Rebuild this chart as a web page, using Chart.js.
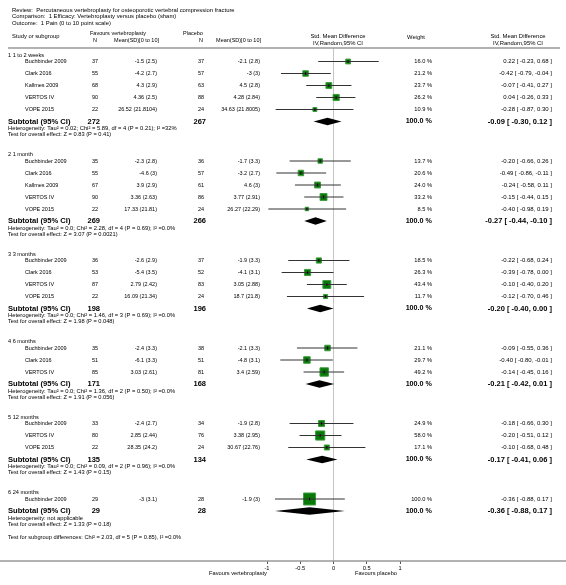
<!DOCTYPE html>
<html>
<head>
<meta charset="utf-8">
<script src="https://cdn.jsdelivr.net/npm/chart.js@4.4.1/dist/chart.umd.min.js"></script>
<style>
  body { margin: 0; background: #fff; }
  #wrap { width: 566px; height: 585px; }
</style>
</head>
<body>
<div id="wrap"><canvas id="forest" width="566" height="585"></canvas></div>
<script>
// subgroups
const groupLabels = ['1 1 to 2 weeks', '2 1 month', '3 3 months', '4 6 months', '5 12 months', '6 24 months'];

// studies, in the order they are listed
const studyGroup = [0, 0, 0, 0, 0, 1, 1, 1, 1, 1, 2, 2, 2, 2, 3, 3, 3, 4, 4, 4, 5];
const studyNames = [
    'Buchbinder 2009', 'Clark 2016', 'Kallmes 2009', 'VERTOS IV', 'VOPE 2015',
    'Buchbinder 2009', 'Clark 2016', 'Kallmes 2009', 'VERTOS IV', 'VOPE 2015',
    'Buchbinder 2009', 'Clark 2016', 'VERTOS IV', 'VOPE 2015',
    'Buchbinder 2009', 'Clark 2016', 'VERTOS IV',
    'Buchbinder 2009', 'VERTOS IV', 'VOPE 2015',
    'Buchbinder 2009'
];
const nVert = [37, 55, 68, 90, 22, 35, 55, 67, 90, 22, 36, 53, 87, 22, 35, 51, 85, 33, 80, 22, 29];
const meanSdVert = [
    '-1.5 (2.5)', '-4.2 (2.7)', '4.3 (2.9)', '4.36 (2.5)', '26.52 (21.8104)',
    '-2.3 (2.8)', '-4.6 (3)', '3.9 (2.9)', '3.36 (2.63)', '17.33 (21.81)',
    '-2.6 (2.9)', '-5.4 (3.5)', '2.79 (2.42)', '16.09 (21.34)',
    '-2.4 (3.3)', '-6.1 (3.3)', '3.03 (2.61)',
    '-2.4 (2.7)', '2.85 (2.44)', '28.35 (24.2)',
    '-3 (3.1)'
];
const nPlac = [37, 57, 63, 88, 24, 36, 57, 61, 86, 24, 37, 52, 83, 24, 38, 51, 81, 34, 76, 24, 28];
const meanSdPlac = [
    '-2.1 (2.8)', '-3 (3)', '4.5 (2.8)', '4.28 (2.84)', '34.63 (21.8005)',
    '-1.7 (3.3)', '-3.2 (2.7)', '4.6 (3)', '3.77 (2.91)', '26.27 (22.29)',
    '-1.9 (3.3)', '-4.1 (3.1)', '3.05 (2.88)', '18.7 (21.8)',
    '-2.1 (3.3)', '-4.8 (3.1)', '3.4 (2.59)',
    '-1.9 (2.8)', '3.38 (2.95)', '30.67 (22.76)',
    '-1.9 (3)'
];
const weights = [16.0, 21.2, 23.7, 26.2, 10.9, 13.7, 20.6, 24.0, 33.2, 8.5, 18.5, 26.3, 43.4, 11.7, 21.1, 29.7, 49.2, 24.9, 58.0, 17.1, 100.0];
const smd    = [0.22, -0.42, -0.07, 0.04, -0.28, -0.20, -0.49, -0.24, -0.15, -0.40, -0.22, -0.39, -0.10, -0.12, -0.09, -0.40, -0.14, -0.18, -0.20, -0.10, -0.36];
const ciLow  = [-0.23, -0.79, -0.41, -0.26, -0.87, -0.66, -0.86, -0.58, -0.44, -0.98, -0.68, -0.78, -0.40, -0.70, -0.55, -0.80, -0.45, -0.66, -0.51, -0.68, -0.88];
const ciHigh = [0.68, -0.04, 0.27, 0.33, 0.30, 0.26, -0.11, 0.11, 0.15, 0.19, 0.24, 0.00, 0.20, 0.46, 0.36, -0.01, 0.16, 0.30, 0.12, 0.48, 0.17];

// subtotals per subgroup
const subNVert = [272, 269, 198, 171, 135, 29];
const subNPlac = [267, 266, 196, 168, 134, 28];
const subSmd  = [-0.09, -0.27, -0.20, -0.21, -0.17, -0.36];
const subLow  = [-0.30, -0.44, -0.40, -0.42, -0.41, -0.88];
const subHigh = [0.12, -0.10, 0.00, 0.01, 0.06, 0.17];
const heterogeneity = [
    'Heterogeneity: Tau² = 0.02; Chi² = 5.89, df = 4 (P = 0.21); I² =32%',
    'Heterogeneity: Tau² = 0.0; Chi² = 2.28, df = 4 (P = 0.69); I² =0.0%',
    'Heterogeneity: Tau² = 0.0; Chi² = 1.46, df = 3 (P = 0.69); I² =0.0%',
    'Heterogeneity: Tau² = 0.0; Chi² = 1.36, df = 2 (P = 0.50); I² =0.0%',
    'Heterogeneity: Tau² = 0.0; Chi² = 0.09, df = 2 (P = 0.96); I² =0.0%',
    'Heterogeneity: not applicable'
];
const overallEffect = [
    'Test for overall effect: Z = 0.83 (P = 0.41)',
    'Test for overall effect: Z = 3.07 (P = 0.0021)',
    'Test for overall effect: Z = 1.98 (P = 0.048)',
    'Test for overall effect: Z = 1.91 (P = 0.056)',
    'Test for overall effect: Z = 1.43 (P = 0.15)',
    'Test for overall effect: Z = 1.33 (P = 0.18)'
];
const subgroupTest = 'Test for subgroup differences: Chi² = 2.03, df = 5 (P = 0.85), I² =0.0%';
const xTicks = [-1, -0.5, 0, 0.5, 1];

// row layout (vertical slots)
const ROW = 12, HEAD_GAP = 6.5, HET_GAP = 7, TEST_GAP = 6, GROUP_GAP = 20;
const rows = { group: [], study: [], sub: [], het: [], test: [] };
let cursor = 55;
groupLabels.forEach((g, gi) => {
    rows.group.push(cursor);
    cursor += HEAD_GAP;
    let first = true;
    studyGroup.forEach((sg, i) => {
        if (sg !== gi) return;
        if (!first) cursor += ROW;
        rows.study[i] = cursor;
        first = false;
    });
    cursor += ROW;
    rows.sub.push(cursor);
    cursor += HET_GAP;
    rows.het.push(cursor);
    cursor += TEST_GAP;
    rows.test.push(cursor);
    cursor += GROUP_GAP;
});
rows.diff = rows.test[rows.test.length - 1] + 13;

const FONT = '"Liberation Sans", Arial, sans-serif';
const fmt = v => v.toFixed(2);
const ciText = (e, lo, hi) => fmt(e) + ' [ ' + fmt(lo) + ', ' + fmt(hi) + ' ]';

// data for the marks
const ciData = [];
studyNames.forEach((n, i) => {
    ciData.push({ x: ciLow[i], y: rows.study[i] }, { x: ciHigh[i], y: rows.study[i] }, { x: null, y: null });
});
const boxData = studyNames.map((n, i) => ({ x: smd[i], y: rows.study[i] }));
const boxRadius = weights.map(w => 12 * Math.sqrt(w / 100) / Math.SQRT2);

function txt(ctx, s, x, y, align, size, bold) {
    ctx.font = (bold ? 'bold ' : '') + size + 'px ' + FONT;
    ctx.textAlign = align;
    ctx.fillText(s, x, y);
}

const forestText = {
    id: 'forestText',
    beforeDraw(chart) {
        const ctx = chart.ctx;
        ctx.save();
        ctx.fillStyle = '#fff';
        ctx.fillRect(0, 0, chart.width, chart.height);
        ctx.restore();
    },
    afterDatasetsDraw(chart) {
        // pooled diamonds
        const ctx = chart.ctx, xs = chart.scales.x, ys = chart.scales.y;
        ctx.save();
        ctx.fillStyle = '#000';
        subSmd.forEach((e, gi) => {
            const yc = ys.getPixelForValue(rows.sub[gi]);
            ctx.beginPath();
            ctx.moveTo(xs.getPixelForValue(subLow[gi]), yc);
            ctx.lineTo(xs.getPixelForValue(e), yc - 3.7);
            ctx.lineTo(xs.getPixelForValue(subHigh[gi]), yc);
            ctx.lineTo(xs.getPixelForValue(e), yc + 3.7);
            ctx.closePath();
            ctx.fill();
        });
        ctx.restore();
    },
    afterDraw(chart) {
        const ctx = chart.ctx;
        ctx.save();
        ctx.fillStyle = '#000';
        ctx.textBaseline = 'middle';

        // rules
        ctx.strokeStyle = '#999';
        ctx.lineWidth = 1.5;
        ctx.beginPath();
        ctx.moveTo(8, 48); ctx.lineTo(560, 48);
        ctx.moveTo(0, chart.chartArea.bottom); ctx.lineTo(566, chart.chartArea.bottom);
        ctx.stroke();

        // titles
        txt(ctx, 'Review:  Percutaneous vertebroplasty for osteoporotic vertebral compression fracture', 12, 10, 'left', 5.9);
        txt(ctx, 'Comparison:  1 Efficacy: Vertebroplasty versus placebo (sham)', 12, 16.5, 'left', 5.9);
        txt(ctx, 'Outcome:  1 Pain (0 to 10 point scale)', 12, 23, 'left', 5.9);

        // column headers
        txt(ctx, 'Study or subgroup', 12, 36, 'left', 5.8);
        txt(ctx, 'Favours vertebroplasty', 90, 33.5, 'left', 5.5);
        txt(ctx, 'N', 95, 40.5, 'center', 5.5);
        txt(ctx, 'Mean(SD)[0 to 10]', 159, 40.5, 'right', 5.5);
        txt(ctx, 'Placebo', 183, 33.5, 'left', 5.5);
        txt(ctx, 'N', 201, 40.5, 'center', 5.5);
        txt(ctx, 'Mean(SD)[0 to 10]', 261, 40.5, 'right', 5.5);
        txt(ctx, 'Std. Mean Difference', 338, 36.5, 'center', 5.9);
        txt(ctx, 'IV,Random,95% CI', 338, 43, 'center', 5.9);
        txt(ctx, 'Weight', 416, 37.5, 'center', 5.8);
        txt(ctx, 'Std. Mean Difference', 518, 36.5, 'center', 5.9);
        txt(ctx, 'IV,Random,95% CI', 518, 43, 'center', 5.9);

        groupLabels.forEach((g, gi) => {
            txt(ctx, g, 8, rows.group[gi], 'left', 5.6);
            txt(ctx, 'Subtotal (95% CI)', 8, rows.sub[gi], 'left', 7.6, true);
            txt(ctx, String(subNVert[gi]), 100, rows.sub[gi], 'right', 7.5, true);
            txt(ctx, String(subNPlac[gi]), 206, rows.sub[gi], 'right', 7.5, true);
            txt(ctx, '100.0 %', 432, rows.sub[gi], 'right', 7.2, true);
            txt(ctx, ciText(subSmd[gi], subLow[gi], subHigh[gi]), 552, rows.sub[gi], 'right', 7.5, true);
            txt(ctx, heterogeneity[gi], 8, rows.het[gi], 'left', 5.8);
            txt(ctx, overallEffect[gi], 8, rows.test[gi], 'left', 5.7);
        });

        studyNames.forEach((n, i) => {
            const y = rows.study[i];
            txt(ctx, n, 25, y, 'left', 5.5);
            txt(ctx, String(nVert[i]), 98, y, 'right', 5.5);
            txt(ctx, meanSdVert[i], 157, y, 'right', 5.5);
            txt(ctx, String(nPlac[i]), 204, y, 'right', 5.5);
            txt(ctx, meanSdPlac[i], 260, y, 'right', 5.5);
            txt(ctx, weights[i].toFixed(1) + ' %', 432, y, 'right', 5.7);
            txt(ctx, ciText(smd[i], ciLow[i], ciHigh[i]), 552, y, 'right', 6.0);
        });

        txt(ctx, subgroupTest, 8, rows.diff, 'left', 5.7);
        txt(ctx, 'Favours vertebroplasty', 238, 573, 'center', 5.7);
        txt(ctx, 'Favours placebo', 376, 573, 'center', 5.7);
        ctx.restore();
    }
};

new Chart(document.getElementById('forest').getContext('2d'), {
    type: 'scatter',
    data: {
        datasets: [
            {
                type: 'line',
                data: ciData,
                borderColor: '#333',
                borderWidth: 1,
                pointRadius: 0,
                spanGaps: false,
                order: 1
            },
            {
                data: boxData,
                pointStyle: 'rect',
                pointRadius: boxRadius,
                backgroundColor: '#087808',
                borderColor: '#3c9c3c',
                borderWidth: 1,
                order: 2
            },
            {
                data: boxData,
                pointStyle: 'line',
                rotation: 90,
                pointRadius: 1.5,
                borderColor: '#000',
                borderWidth: 0.8,
                order: 0
            }
        ]
    },
    options: {
        responsive: false,
        animation: false,
        devicePixelRatio: 1,
        layout: { padding: { left: 267, right: 166, top: 48, bottom: 0 } },
        plugins: { legend: { display: false }, tooltip: { enabled: false } },
        scales: {
            x: {
                type: 'linear',
                min: -1,
                max: 1,
                afterBuildTicks: scale => { scale.ticks = xTicks.map(v => ({ value: v })); },
                afterFit: scale => { scale.height = 24; },
                ticks: {
                    callback: v => String(v),
                    color: '#000',
                    padding: 1,
                    maxRotation: 0,
                    font: { size: 5.7, family: FONT }
                },
                grid: {
                    color: c => (c.tick && c.tick.value === 0 ? '#c4c4c4' : 'rgba(0,0,0,0)'),
                    tickColor: '#555',
                    tickLength: 3,
                    lineWidth: 1
                },
                border: { display: false }
            },
            y: {
                type: 'linear',
                display: false,
                reverse: true,
                min: 48,
                max: 561
            }
        }
    },
    plugins: [forestText]
});
</script>
</body>
</html>
